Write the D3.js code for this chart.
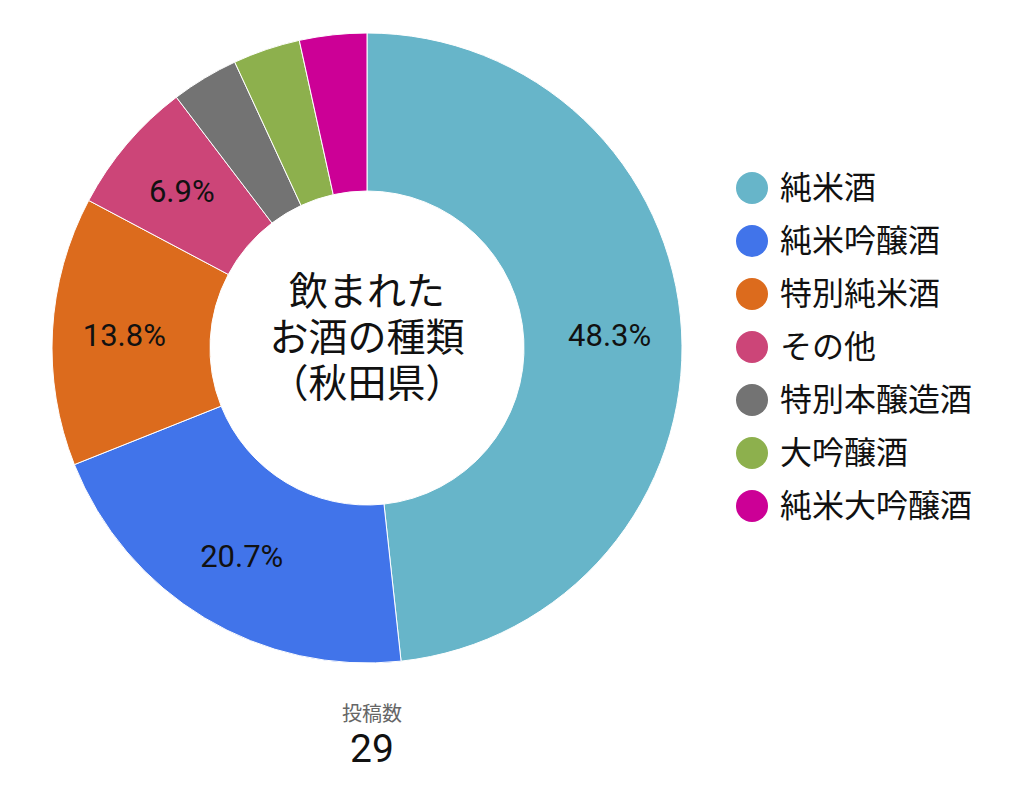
<!DOCTYPE html>
<html>
<head>
<meta charset="utf-8">
<script src="https://cdn.jsdelivr.net/npm/d3@7"></script>
<style>
  body { margin: 0; background: #fff; }
  svg text { font-family: Roboto, "Noto Sans CJK JP", sans-serif; }
</style>
</head>
<body>
<div class="DonutChart"></div>
<script>
// slice data
const categories = ["純米酒", "純米吟醸酒", "特別純米酒", "その他", "特別本醸造酒", "大吟醸酒", "純米大吟醸酒"];
const counts = [14, 6, 4, 2, 1, 1, 1];
const colors = ["#67b5c9", "#4174ea", "#dc6b1d", "#cc4578", "#737373", "#8db04d", "#cc0096"];
const centerLines = ["飲まれた", "お酒の種類", "（秋田県）"];
const totalLabel = "投稿数";

const width = 1024, height = 798;
const cx = 367, cy = 348;
const outerR = 315, innerR = 157;

const data = categories.map((c, i) => ({ name: c, value: counts[i], color: colors[i] }));
const total = d3.sum(counts);

const svg = d3.select(".DonutChart").append("svg")
  .attr("width", width)
  .attr("height", height)
  .attr("viewBox", `0 0 ${width} ${height}`);

const pie = d3.pie().value(d => d.value).sort(null);
const arc = d3.arc().innerRadius(innerR).outerRadius(outerR);
const labelArc = d3.arc().innerRadius(243).outerRadius(243);

const g = svg.append("g").attr("transform", `translate(${cx},${cy})`);

//render slices
g.selectAll("path")
  .data(pie(data))
  .join("path")
  .attr("d", arc)
  .attr("fill", d => d.data.color)
  .attr("stroke", "#fff")
  .attr("stroke-width", 1);

//percent labels (skip small slices)
g.selectAll("text.pct")
  .data(pie(data).filter(d => d.data.value / total > 0.05))
  .join("text")
  .attr("class", "pct")
  .attr("transform", d => `translate(${labelArc.centroid(d)})`)
  .attr("text-anchor", "middle")
  .attr("dy", "0.35em")
  .attr("font-size", 31)
  .attr("fill", "#111")
  .text(d => (d.data.value / total * 100).toFixed(1) + "%");

//center title
g.selectAll("text.title")
  .data(centerLines)
  .join("text")
  .attr("class", "title")
  .attr("text-anchor", "middle")
  .attr("y", (d, i) => -57 + i * 46)
  .attr("dy", "0.35em")
  .attr("font-size", 39)
  .attr("fill", "#111")
  .text(d => d);

//legend
const legend = svg.append("g").attr("transform", "translate(752,188)");
const item = legend.selectAll("g")
  .data(data)
  .join("g")
  .attr("transform", (d, i) => `translate(0,${i * 53})`);
item.append("circle").attr("r", 16).attr("fill", d => d.color);
item.append("text")
  .attr("x", 28)
  .attr("dy", "0.35em")
  .attr("font-size", 32)
  .attr("fill", "#111")
  .text(d => d.name);

//total count
svg.append("text")
  .attr("x", 372).attr("y", 714)
  .attr("text-anchor", "middle")
  .attr("dy", "0.35em")
  .attr("font-size", 20)
  .attr("fill", "#666")
  .text(totalLabel);
svg.append("text")
  .attr("x", 372).attr("y", 748)
  .attr("text-anchor", "middle")
  .attr("dy", "0.35em")
  .attr("font-size", 39)
  .attr("fill", "#111")
  .text(total);
</script>
</body>
</html>
